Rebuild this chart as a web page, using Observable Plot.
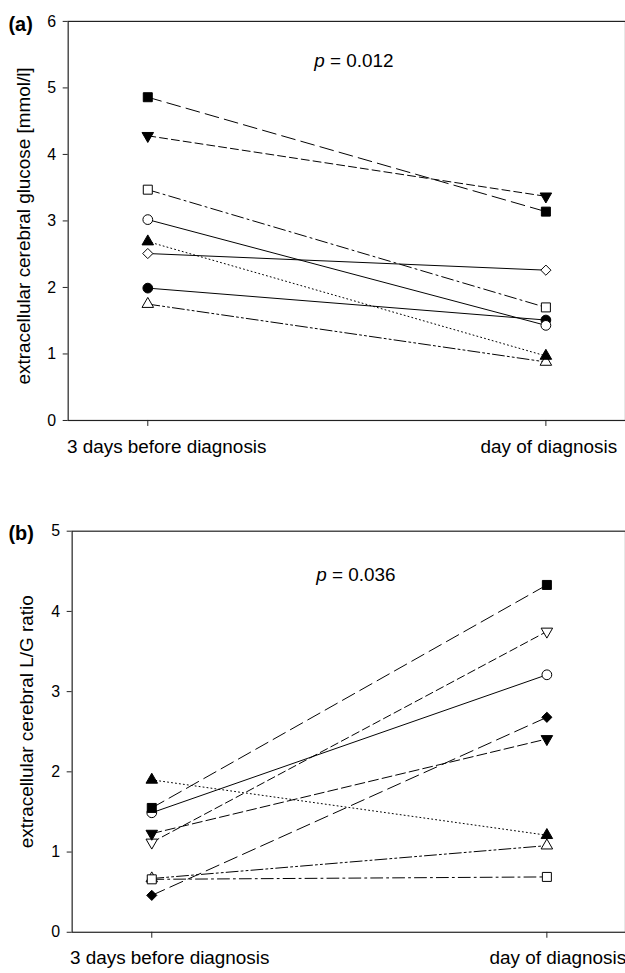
<!DOCTYPE html>
<html><head><meta charset="utf-8">
<script src="https://cdn.jsdelivr.net/npm/d3@7"></script>
<script src="https://cdn.jsdelivr.net/npm/@observablehq/plot@0.6"></script>
<style>
html,body{margin:0;padding:0;background:#fff;overflow:hidden;width:625px;}
svg{display:block}
</style></head><body><div id="chart"></div>
<script>
// ---------- data ----------
const timepoints = ["3 days before diagnosis", "day of diagnosis"];

// panel (a): extracellular cerebral glucose
const glucoseSeries = ["filled square", "filled triangle down", "open square", "filled circle", "open circle", "open triangle", "filled triangle", "open diamond"];
const glucoseBefore = [4.86, 4.28, 3.47, 1.99, 3.02, 1.75, 2.69, 2.51];
const glucoseAtDiagnosis = [3.14, 3.37, 1.70, 1.51, 1.43, 0.88, 0.97, 2.26];
const glucoseTicks = [0, 1, 2, 3, 4, 5, 6];
const glucoseLabel = "extracellular cerebral glucose [mmol/l]";
const glucoseP = "p = 0.012";

// panel (b): extracellular cerebral L/G ratio
const lgSeries = ["open circle", "filled square", "open triangle down", "filled triangle down", "open triangle", "filled triangle", "open square", "filled diamond"];
const lgBefore = [1.49, 1.55, 1.12, 1.23, 0.67, 1.90, 0.66, 0.46];
const lgAtDiagnosis = [3.21, 4.33, 3.75, 2.41, 1.08, 1.21, 0.69, 2.68];
const lgTicks = [0, 1, 2, 3, 4, 5];
const lgLabel = "extracellular cerebral L/G ratio";
const lgP = "p = 0.036";

// ---------- styles ----------
const dash = {long: "14,6", medium: "8,4", mediumLong: "10,4", dashdot: "12,4,2,4", dashdotdot: "12,3,2,3,2,3", dotted: "1,3", solid: null};
const glucoseLineStyle = {
  "filled square": "long", "filled triangle down": "medium", "open square": "dashdot",
  "filled circle": "solid", "open circle": "solid", "open triangle": "dashdotdot",
  "filled triangle": "dotted", "open diamond": "solid"
};
const lgLineStyle = {
  "open circle": "solid", "filled square": "long", "open triangle down": "medium",
  "filled triangle down": "mediumLong", "open triangle": "dashdotdot", "filled triangle": "dotted",
  "open square": "dashdot", "filled diamond": "long"
};
function marker(name) {
  const fill = name.startsWith("filled") ? "black" : "white";
  if (name.includes("square")) return {symbol: "square", r: 5.1, fill};
  if (name.includes("circle")) return {symbol: "circle", r: 4.9, fill};
  if (name.includes("diamond")) return {symbol: "diamond2", r: 4.6, fill};
  if (name.includes("triangle down")) return {symbol: "triangle", r: 4.3, rotate: 180, fill};
  return {symbol: "triangle", r: 4.3, fill};
}

const FONT = "'Liberation Sans', Arial, Helvetica, sans-serif";

function panel({series, before, after, ticks, label, pText, lineStyle, letter, height, marginLeft, marginTop, marginBottom, yMax, dxLeft, dxRight, labelDx, labelDy, letterDy, pDy, labelBaseline}) {
  const rows = [];
  series.forEach((id, i) => {
    rows.push({id, time: timepoints[0], value: before[i]});
    rows.push({id, time: timepoints[1], value: after[i]});
  });
  const marks = [
    Plot.frame({stroke: "#222", strokeWidth: 1.2}),
    Plot.axisY({ticks, tickSize: 5, tickPadding: 7, fontSize: 16, label: null, stroke: "#222", tickFormat: d3.format("d")}),
    Plot.axisX({tickSize: 6, tickFormat: () => "", label: null, stroke: "#222"}),
  ];
  series.forEach(id => {
    marks.push(Plot.line(rows.filter(d => d.id === id), {x: "time", y: "value", stroke: "black", strokeWidth: 1, strokeDasharray: dash[lineStyle[id]]}));
  });
  series.forEach(id => {
    const m = marker(id);
    marks.push(Plot.dot(rows.filter(d => d.id === id), {x: "time", y: "value", symbol: m.symbol, r: m.r, fill: m.fill, stroke: "black", strokeWidth: 1, rotate: m.rotate || 0}));
  });
  marks.push(
    Plot.text([timepoints[0]], {x: d => d, frameAnchor: "bottom", dy: labelBaseline, dx: dxLeft, lineAnchor: "bottom", fontSize: 19, fill: "black"}),
    Plot.text([timepoints[1]], {x: d => d, frameAnchor: "bottom", dy: labelBaseline, dx: dxRight, lineAnchor: "bottom", fontSize: 19, fill: "black"}),
    Plot.text([label], {frameAnchor: "left", rotate: -90, dx: labelDx, dy: labelDy, textAnchor: "middle", lineAnchor: "middle", fontSize: 19, fill: "black"}),
    Plot.text([pText], {frameAnchor: "top", dx: 7, dy: pDy, textAnchor: "middle", lineAnchor: "bottom", fontSize: 19, fill: "black"}),
    Plot.text([letter], {frameAnchor: "top-left", dx: 8 - marginLeft, dy: letterDy, textAnchor: "start", lineAnchor: "middle", fontSize: 20, fontWeight: "bold", fill: "black"})
  );
  const svg = Plot.plot({
    width: 628, height, marginLeft, marginRight: 0, marginTop, marginBottom,
    x: {type: "point", domain: timepoints, padding: 0.2},
    y: {domain: [0, yMax]},
    style: {fontFamily: FONT, fontSize: "16px", background: "white", color: "black"},
    marks
  });
  svg.querySelectorAll("text").forEach(t => {
    if (t.textContent === pText) {
      t.textContent = "";
      const ns = "http://www.w3.org/2000/svg";
      const a = document.createElementNS(ns, "tspan");
      a.setAttribute("font-style", "italic");
      a.textContent = "p";
      const b = document.createElementNS(ns, "tspan");
      b.textContent = pText.slice(1);
      t.appendChild(a); t.appendChild(b);
    }
  });
  return svg;
}

const chart = document.getElementById("chart");
chart.appendChild(panel({
  series: glucoseSeries, before: glucoseBefore, after: glucoseAtDiagnosis, ticks: glucoseTicks,
  label: glucoseLabel, pText: glucoseP, lineStyle: glucoseLineStyle, letter: "(a)",
  height: 470, marginLeft: 68, marginTop: 21, marginBottom: 48, yMax: 6,
  dxLeft: 19, dxRight: 3, labelDx: -44, labelDy: 5, letterDy: 3, pDy: 46, labelBaseline: 33
}));
chart.appendChild(panel({
  series: lgSeries, before: lgBefore, after: lgAtDiagnosis, ticks: lgTicks,
  label: lgLabel, pText: lgP, lineStyle: lgLineStyle, letter: "(b)",
  height: 503, marginLeft: 72, marginTop: 63, marginBottom: 37, yMax: 5,
  dxLeft: 18, dxRight: 11, labelDx: -45, labelDy: -10, letterDy: 2, pDy: 50, labelBaseline: 32
}));
</script></body></html>
